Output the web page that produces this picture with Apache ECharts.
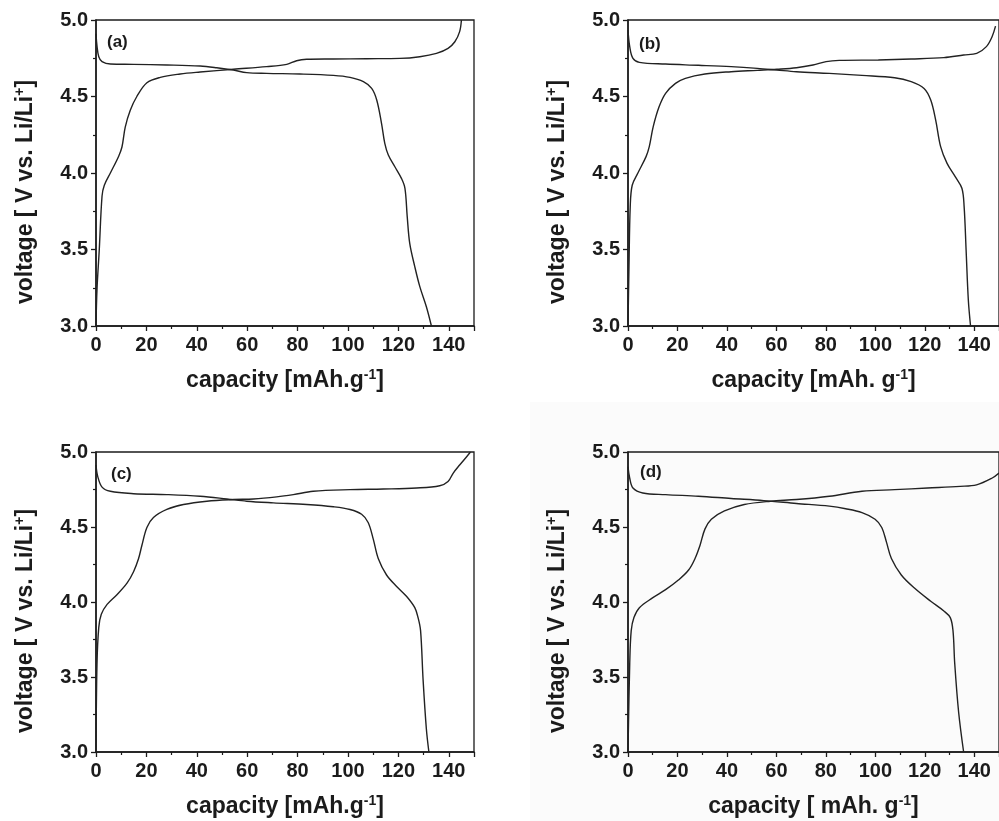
<!DOCTYPE html>
<html>
<head>
<meta charset="utf-8">
<script src="https://cdn.jsdelivr.net/npm/echarts@6/dist/echarts.min.js"></script>
<style>
  html, body { margin: 0; padding: 0; background: #fff; }
  #chart { width: 999px; height: 821px; }
</style>
</head>
<body>
<div id="chart"></div>
<script>
// Charge / discharge profiles: [capacity (mAh/g), voltage (V)]
const chargeA = [[0,3.0],[0.4,3.24],[1.3,3.50],[2.4,3.85],[3.3,3.92],[5.7,4.0],[9.0,4.11],[10.3,4.17],[11.6,4.30],[13.6,4.41],[16.2,4.50],[20.2,4.59],[25.5,4.625],[33.4,4.647],[41.3,4.66],[54.5,4.678],[67.7,4.695],[75.7,4.71],[79.6,4.734],[83.6,4.743],[94.2,4.745],[107.4,4.747],[120.6,4.749],[128.5,4.76],[135.1,4.782],[139.7,4.815],[142.4,4.858],[144.3,4.924],[145.0,5.0]];
const dischargeA = [[0,4.91],[0.4,4.83],[1.1,4.76],[2.4,4.728],[5.7,4.712],[14.9,4.71],[28.1,4.706],[41.3,4.699],[47.9,4.688],[54.5,4.673],[59.8,4.656],[67.7,4.651],[81.0,4.647],[94.2,4.638],[100.8,4.625],[106.1,4.597],[109.4,4.553],[111.4,4.477],[113.3,4.325],[114.6,4.194],[116.0,4.118],[118.6,4.041],[121.2,3.965],[122.6,3.90],[123.5,3.715],[124.5,3.54],[126.5,3.388],[128.5,3.257],[131.1,3.126],[133.1,3.0]];

const chargeB = [[0,3.0],[0.4,3.39],[0.9,3.78],[1.7,3.92],[4.0,4.0],[7.3,4.107],[8.6,4.172],[10.2,4.303],[12.6,4.434],[15.2,4.521],[19.2,4.586],[23.2,4.619],[31.1,4.647],[41.7,4.662],[52.3,4.671],[60.2,4.678],[68.1,4.688],[74.8,4.706],[80.1,4.728],[85.4,4.736],[101.2,4.739],[114.5,4.745],[127.7,4.754],[135.7,4.771],[141.0,4.782],[144.9,4.826],[147.2,4.891],[148.6,4.96]];
const dischargeB = [[0,4.935],[0.7,4.826],[2.0,4.749],[4.6,4.723],[15.2,4.712],[28.5,4.704],[41.7,4.695],[52.3,4.684],[60.2,4.673],[68.1,4.662],[81.4,4.651],[94.6,4.638],[107.8,4.623],[114.5,4.597],[119.7,4.553],[122.4,4.477],[124.4,4.346],[126.4,4.172],[129.0,4.063],[132.3,3.976],[135.0,3.90],[135.9,3.78],[136.7,3.497],[137.6,3.17],[138.5,3.0]];

const chargeC = [[0,3.0],[0.4,3.59],[1.1,3.831],[2.1,3.918],[4.4,3.984],[8.3,4.049],[12.3,4.126],[14.9,4.202],[16.9,4.29],[18.2,4.377],[20.2,4.497],[22.8,4.563],[28.1,4.617],[34.7,4.65],[44.0,4.672],[54.5,4.683],[62.5,4.687],[71.7,4.701],[78.3,4.716],[86.2,4.738],[100.8,4.749],[114.0,4.753],[127.2,4.76],[136.4,4.775],[139.7,4.803],[141.7,4.858],[144.3,4.913],[147.0,4.967],[148.6,5.0]];
const dischargeC = [[0,4.913],[0.7,4.836],[2.4,4.766],[5.7,4.738],[14.9,4.722],[28.1,4.716],[41.3,4.705],[51.9,4.687],[59.8,4.672],[70.4,4.661],[83.6,4.65],[94.2,4.635],[100.8,4.617],[105.4,4.585],[108.0,4.53],[110.0,4.421],[112.0,4.29],[115.3,4.18],[119.3,4.104],[123.2,4.038],[126.5,3.962],[127.8,3.896],[128.8,3.809],[129.8,3.481],[131.1,3.153],[132.1,3.0]];

const chargeD = [[0,3.0],[0.7,3.59],[1.3,3.809],[2.4,3.896],[4.6,3.962],[9.9,4.027],[15.2,4.082],[20.5,4.148],[24.5,4.213],[27.1,4.29],[29.1,4.377],[31.1,4.486],[33.7,4.552],[39.0,4.607],[47.0,4.65],[57.6,4.672],[68.1,4.683],[81.4,4.705],[94.6,4.738],[107.8,4.749],[121.1,4.76],[134.3,4.771],[140.9,4.781],[147.1,4.825],[150.0,4.86]];
const dischargeD = [[0,4.902],[0.7,4.825],[2.0,4.76],[6.0,4.727],[15.2,4.716],[28.5,4.705],[41.7,4.69],[54.9,4.676],[68.1,4.657],[81.4,4.639],[88.0,4.622],[94.6,4.596],[99.9,4.552],[102.6,4.497],[104.5,4.399],[106.5,4.29],[110.5,4.18],[115.8,4.093],[122.4,4.005],[127.7,3.94],[130.3,3.896],[131.4,3.809],[132.1,3.59],[133.7,3.262],[135.7,3.0]];

const panelLabels = ['(a)', '(b)', '(c)', '(d)'];
const xTitles = ['capacity [mAh.g{sup|-1}]', 'capacity [mAh. g{sup|-1}]', 'capacity [mAh.g{sup|-1}]', 'capacity [ mAh. g{sup|-1}]'];
const yTitle = 'voltage [ V vs. Li/Li{sup|+}]';
const curves = [[chargeA, dischargeA], [chargeB, dischargeB], [chargeC, dischargeC], [chargeD, dischargeD]];

const FONT = '"Liberation Sans", Arial, Helvetica, sans-serif';
const INK = '#1b1b1b';

// Plot-area placement for the 2x2 layout
const grids = [
  { left: 96,  top: 20,  width: 378, height: 306 },
  { left: 628, top: 20,  width: 379, height: 306 },
  { left: 96,  top: 452, width: 378, height: 305 },
  { left: 628, top: 452, width: 379, height: 305 }
];
const labelPos = [
  { left: 107, top: 34 }, { left: 639, top: 36 },
  { left: 111, top: 466 }, { left: 640, top: 464 }
];

const chart = echarts.init(document.getElementById('chart'), null, { renderer: 'canvas' });

const supStyle = { fontFamily: FONT, fontSize: 14, fontWeight: 'bold', color: INK, verticalAlign: 'top', lineHeight: 26, padding: [0, 0, 12, 0] };

const option = {
  backgroundColor: '#ffffff',
  animation: false,
  graphic: [{
    type: 'rect', z: -10, silent: true,
    shape: { x: 530, y: 402, width: 470, height: 420 },
    style: { fill: '#fbfbfb' }
  }],
  title: panelLabels.map((t, i) => ({
    text: t, left: labelPos[i].left, top: labelPos[i].top, padding: 0,
    textStyle: { fontFamily: FONT, fontSize: 17, fontWeight: 'bold', color: INK }
  })),
  grid: grids.map(g => Object.assign({
    show: true, borderColor: INK, borderWidth: 1.3, backgroundColor: 'transparent', containLabel: false
  }, g)),
  xAxis: grids.map((g, i) => ({
    type: 'value', gridIndex: i, min: 0, max: 150, interval: 20,
    name: xTitles[i], nameLocation: 'middle', nameGap: 42,
    nameTextStyle: {
      fontFamily: FONT, fontSize: 23, fontWeight: 'bold', color: INK, lineHeight: 26,
      rich: { sup: supStyle }
    },
    axisLine: { show: true, onZero: false, lineStyle: { color: INK, width: 1.5 } },
    axisTick: { show: true, inside: false, length: 5, lineStyle: { color: INK, width: 1.3 } },
    minorTick: { show: true, splitNumber: 2, length: 3, lineStyle: { color: INK, width: 1.2 } },
    splitLine: { show: false },
    axisLabel: {
      margin: 9, fontFamily: FONT, fontSize: 20, fontWeight: 'bold', color: INK,
      showMaxLabel: false,
      formatter: v => (v > 140 ? '' : String(v))
    }
  })),
  yAxis: grids.map((g, i) => ({
    type: 'value', gridIndex: i, min: 3, max: 5, interval: 0.5,
    name: yTitle, nameLocation: 'middle', nameGap: 57, nameRotate: 90,
    nameTextStyle: {
      fontFamily: FONT, fontSize: 23, fontWeight: 'bold', color: INK, lineHeight: 26,
      padding: [0, 38, 0, 0],
      rich: { sup: supStyle }
    },
    axisLine: { show: true, onZero: false, lineStyle: { color: INK, width: 1.5 } },
    axisTick: { show: true, inside: false, length: 5, lineStyle: { color: INK, width: 1.3 } },
    minorTick: { show: true, splitNumber: 2, length: 3, lineStyle: { color: INK, width: 1.2 } },
    splitLine: { show: false },
    axisLabel: {
      margin: 8, fontFamily: FONT, fontSize: 20, fontWeight: 'bold', color: INK,
      formatter: v => v.toFixed(1)
    }
  })),
  series: []
};

curves.forEach((pair, i) => {
  pair.forEach(data => {
    option.series.push({
      type: 'line', xAxisIndex: i, yAxisIndex: i, data: data,
      showSymbol: false, symbol: 'none', smooth: 0.35,
      clip: true,
      lineStyle: { color: '#222', width: 1.4 }
    });
  });
});

chart.setOption(option);
</script>
</body>
</html>
